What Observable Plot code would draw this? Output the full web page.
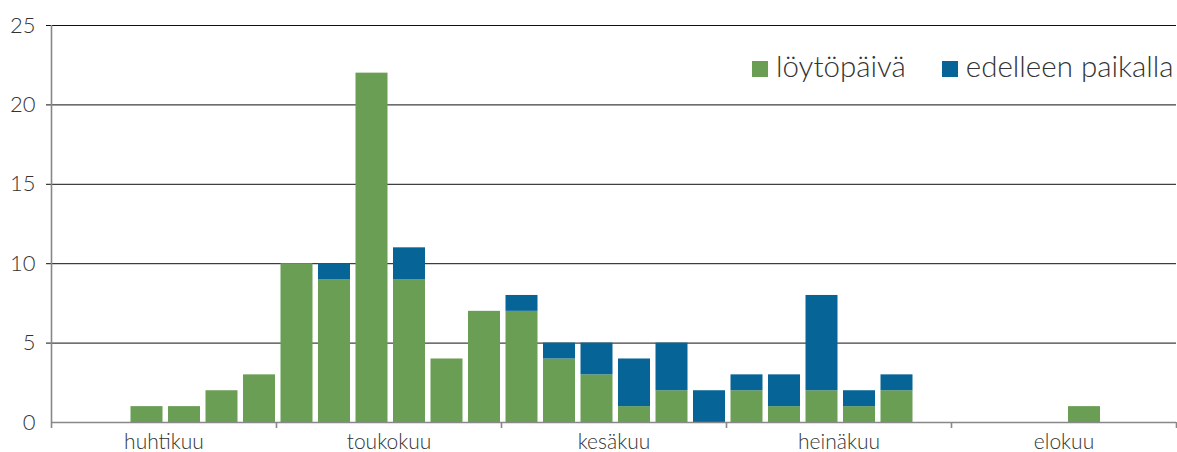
<!DOCTYPE html>
<html><head><meta charset="utf-8">
<script src="https://cdn.jsdelivr.net/npm/d3@7"></script>
<script src="https://cdn.jsdelivr.net/npm/@observablehq/plot@0.6"></script>
<style>
body{margin:0;background:#fff;}
#chart{position:relative;width:1177px;height:452px;font-family:Lato,sans-serif;font-weight:300;color:#333;}
#legend{position:absolute;left:752px;top:48px;display:flex;align-items:center;font-size:29.5px;white-space:nowrap;}
#legend .item{display:flex;align-items:center;margin-right:36px;}
#legend .item:last-child{margin-right:0;}
#legend .sw{width:16px;height:16px;margin-right:8px;margin-top:6px;}
</style></head><body><div id="chart"><div id="legend"></div></div>
<script>
const months = ["huhtikuu","toukokuu","kesäkuu","heinäkuu","elokuu"];
const slotsPerMonth = 6;
const series = ["löytöpäivä","edelleen paikalla"];
const colors = ["#6a9e55","#066496"];
// values per 5-day period (6 per month), April to August
const found      = [0,0,1,1,2,3, 10,9,22,9,4,7, 7,4,3,1,2,0, 2,1,2,1,2,0, 0,0,0,1,0,0];
const stillThere = [0,0,0,0,0,0, 0,1,0,2,0,0, 1,1,2,3,3,2, 1,2,6,1,1,0, 0,0,0,0,0,0];
const yTicks = [0,5,10,15,20,25];

const nSlots = months.length * slotsPerMonth;
const data = [];
found.forEach((v,i)=>data.push({slot:i, series:series[0], value:v}));
stillThere.forEach((v,i)=>data.push({slot:i, series:series[1], value:v}));
const monthStarts = d3.range(0, nSlots + 1, slotsPerMonth);
const monthMids = months.map((m,i)=>i*slotsPerMonth + slotsPerMonth/2);

const chart = Plot.plot({
  width: 1177, height: 452,
  marginLeft: 51, marginRight: 1, marginTop: 25, marginBottom: 30,
  style: {fontFamily: "Lato, sans-serif", fontWeight: 300, background: "#fff", color: "#333", overflow: "visible"},
  x: {type: "linear", domain: [0, nSlots], axis: null, label: null},
  y: {type: "linear", domain: [0, 25], axis: null, label: null},
  color: {domain: series, range: colors},
  marks: [
    Plot.ruleY(yTicks.filter(d=>d>0), {x1: 0, x2: nSlots, stroke: "#111", strokeWidth: 1, insetLeft: -5}),
    Plot.rectY(data, {x: "slot", interval: 1, y: "value", fill: "series", insetLeft: 4.5, insetRight: 1, order: series}),
    Plot.ruleX([0], {y1: 0, y2: 25, stroke: "#888", strokeWidth: 1.6}),
    Plot.ruleY([0], {x1: 0, x2: nSlots, stroke: "#888", strokeWidth: 1.6}),
    Plot.axisX(monthStarts, {tickSize: 6, tickFormat: () => "", stroke: "#888", strokeWidth: 1.6, strokeOpacity: 1, label: null}),
    Plot.axisX(monthMids, {tickSize: 0, tickPadding: 12, tickFormat: (d)=>months[(d - slotsPerMonth/2)/slotsPerMonth], fontSize: 21, fill: "#333", label: null}),
    Plot.axisY(yTicks, {tickSize: 0, tickPadding: 16, fontSize: 22, fill: "#333", textAnchor: "end", label: null})
  ]
});
document.getElementById("chart").prepend(chart);

const legend = document.getElementById("legend");
series.forEach((s,i)=>{
  const it = document.createElement("div"); it.className="item";
  const sw = document.createElement("div"); sw.className="sw"; sw.style.background = colors[i];
  const t = document.createElement("span"); t.textContent = s;
  it.append(sw, t); legend.append(it);
});
</script></body></html>
